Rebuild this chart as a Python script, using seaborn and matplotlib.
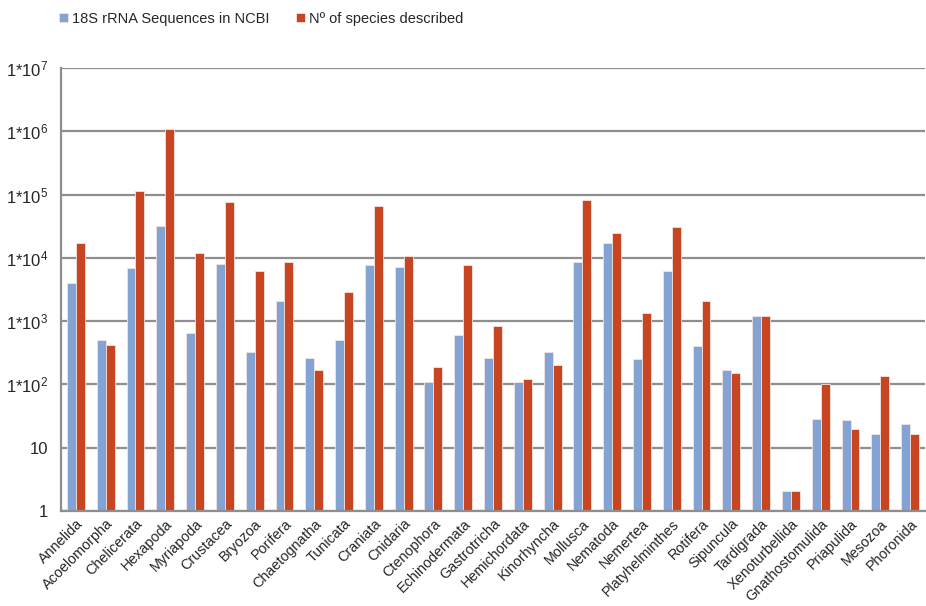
import numpy as np
import pandas as pd
import seaborn as sns
import matplotlib.pyplot as plt

# taxa on the x axis
taxa = ['Annelida', 'Acoelomorpha', 'Chelicerata', 'Hexapoda', 'Myriapoda', 'Crustacea',
        'Bryozoa', 'Porifera', 'Chaetognatha', 'Tunicata', 'Craniata', 'Cnidaria',
        'Ctenophora', 'Echinodermata', 'Gastrotricha', 'Hemichordata', 'Kinorhyncha',
        'Mollusca', 'Nematoda', 'Nemertea', 'Platyhelminthes', 'Rotifera', 'Sipuncula',
        'Tardigrada', 'Xenoturbellida', 'Gnathostomulida', 'Priapulida', 'Mesozoa', 'Phoronida']

# values
seqs_18s = [3950, 500, 6800, 31800, 650, 8100, 330, 2070, 260, 500, 7700, 7200,
            109, 594, 260, 109, 330, 8600, 17400, 250, 6200, 410, 170, 1200,
            2.1, 28, 27, 16.5, 24]
species = [17400, 425, 115000, 1070000, 11800, 75000, 6200, 8600, 168, 2850, 67000, 10700,
           188, 7700, 825, 123, 200, 83000, 25000, 1350, 30500, 2070, 152, 1200,
           2.1, 100, 19.5, 137, 16.5]

series_names = ['18S rRNA Sequences in NCBI', 'N\u00ba of species described']
colors = ['#84A3D5', '#C84522']

df = pd.DataFrame({'taxon': taxa * 2,
                   'value': seqs_18s + species,
                   'series': [series_names[0]] * len(taxa) + [series_names[1]] * len(taxa)})

sns.set_style('white')
plt.rcParams['font.family'] = ['Liberation Sans', 'DejaVu Sans']
plt.rcParams['mathtext.fontset'] = 'custom'
plt.rcParams['mathtext.rm'] = 'Liberation Sans'
plt.rcParams['mathtext.it'] = 'Liberation Sans'
plt.rcParams['mathtext.bf'] = 'Liberation Sans'

fig = plt.figure(figsize=(9.26, 6.06), dpi=100)
ax = fig.add_axes([61 / 926, 1 - 511 / 606, 864 / 926, (511 - 68) / 606])
ax.set_yscale('log')

sns.barplot(data=df, x='taxon', y='value', hue='series', palette=colors, saturation=1,
            width=0.6, gap=0, linewidth=0.6, edgecolor='#f3e4e0', ax=ax, legend=True)

ax.set_ylim(1, 1e7)
ax.set_xlim(-0.5, len(taxa) - 0.5)

yt = [1, 10, 1e2, 1e3, 1e4, 1e5, 1e6, 1e7]
ylabels = ['1', '10'] + [r'1*10$^{%d}$' % k for k in range(2, 8)]
ax.set_yticks(yt)
ax.set_yticklabels(ylabels, fontsize=12)
ax.yaxis.set_minor_locator(plt.NullLocator())
ax.grid(axis='y', color='#8e8e8e', linewidth=1.6)
ax.set_axisbelow(True)

ax.set_xticks(range(len(taxa)))
ax.set_xticklabels(taxa, rotation=45, ha='right', rotation_mode='anchor', fontsize=10.4)
ax.set_xticks(np.arange(-0.5, len(taxa), 1), minor=True)
ax.tick_params(axis='x', which='major', length=0, pad=4)
ax.tick_params(axis='x', which='minor', length=4, color='#8e8e8e', width=1.2)
ax.tick_params(axis='y', length=4, color='#8e8e8e', width=1.2, pad=5)

ax.set_xlabel('')
ax.set_ylabel('')
sns.despine(ax=ax, top=True, right=True)
for side in ['left', 'bottom']:
    ax.spines[side].set_color('#8e8e8e')
    ax.spines[side].set_linewidth(1.6)

ax.legend(loc='center left', bbox_to_anchor=(46 / 926, 1 - 19 / 606), bbox_transform=fig.transFigure,
          ncol=2, frameon=False, fontsize=10.5, handlelength=0.6, handleheight=0.6,
          handletextpad=0.3, columnspacing=1.8)

fig.savefig('out.png', dpi=100)
